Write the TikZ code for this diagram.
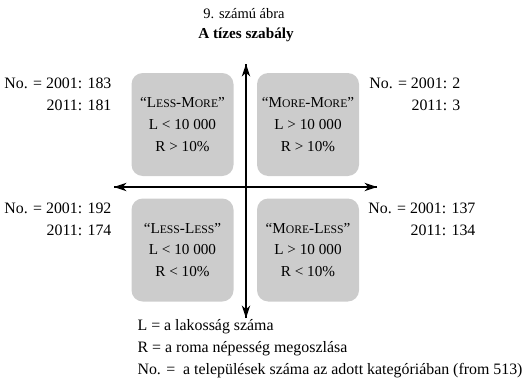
\documentclass[tikz,border=0pt]{standalone}
\usepackage{fontspec}
\setmainfont{Liberation Serif}
\usepackage{tikz}
\usetikzlibrary{arrows.meta}

\newcommand{\fsc}[1]{{\fontsize{8.3}{10}\selectfont #1}}
\tikzset{
  quad/.style={fill=black!20, rounded corners=8pt, minimum width=102*0.025cm,
    minimum height=103*0.025cm, inner sep=0pt},
  qtext/.style={align=center, font=\fontsize{10.8}{15.6}\selectfont},
  count/.style={align=right, font=\fontsize{11.3}{15.6}\selectfont, anchor=north east},
  axis/.style={thick, -{Stealth[length=9pt,width=6pt]}}
}

\begin{document}
\begin{tikzpicture}[x=0.025cm,y=-0.025cm]
\useasboundingbox (0,0) rectangle (530,387);
\fontsize{11.3}{15.6}\selectfont
% title
\node[font=\fontsize{10.3}{14}\selectfont] (num) at (244,14) {9. számú ábra};
\node[font=\fontsize{10.8}{14}\selectfont\bfseries] (title) at (246,35) {A tízes szabály};

% the four quadrants
\node[quad] (lm) at (182.5,124.5) {};
\node[quad] (mm) at (308,124.5) {};
\node[quad] (ll) at (182.5,250) {};
\node[quad] (ml) at (308,250) {};
\node[qtext] at (lm) {“L\fsc{ESS}-M\fsc{ORE}”\\ L < 10 000\\ R > 10\%};
\node[qtext] at (mm) {“M\fsc{ORE}-M\fsc{ORE}”\\ L > 10 000\\ R > 10\%};
\node[qtext] at (ll) {“L\fsc{ESS}-L\fsc{ESS}”\\ L < 10 000\\ R < 10\%};
\node[qtext] at (ml) {“M\fsc{ORE}-L\fsc{ESS}”\\ L > 10 000\\ R < 10\%};

% axes
\coordinate (top) at (246,64);
\coordinate (bottom) at (246,318);
\coordinate (left) at (114,187);
\coordinate (right) at (377,187);
\draw[axis] (bottom) -- (top);
\draw[axis] (top) -- (bottom);
\draw[axis] (right) -- (left);
\draw[axis] (left) -- (right);

% counts
\node[count] (clm) at (117,72) {No. = 2001: 183\\ 2011: 181};
\node[count] (cmm) at (466,72) {No. = 2001: 2\\ 2011: 3};
\node[count] (cll) at (117,197) {No. = 2001: 192\\ 2011: 174};
\node[count] (cml) at (481,197) {No. = 2001: 137\\ 2011: 134};

% legend
\node[anchor=west] (legL) at (132,327) {L = a lakosság száma};
\node[anchor=west] (legR) at (132,349) {R = a roma népesség megoszlása};
\node[anchor=west] (legN) at (132,371) {No. = \ a települések száma az adott kategóriában (from 513)};
\end{tikzpicture}
\end{document}
